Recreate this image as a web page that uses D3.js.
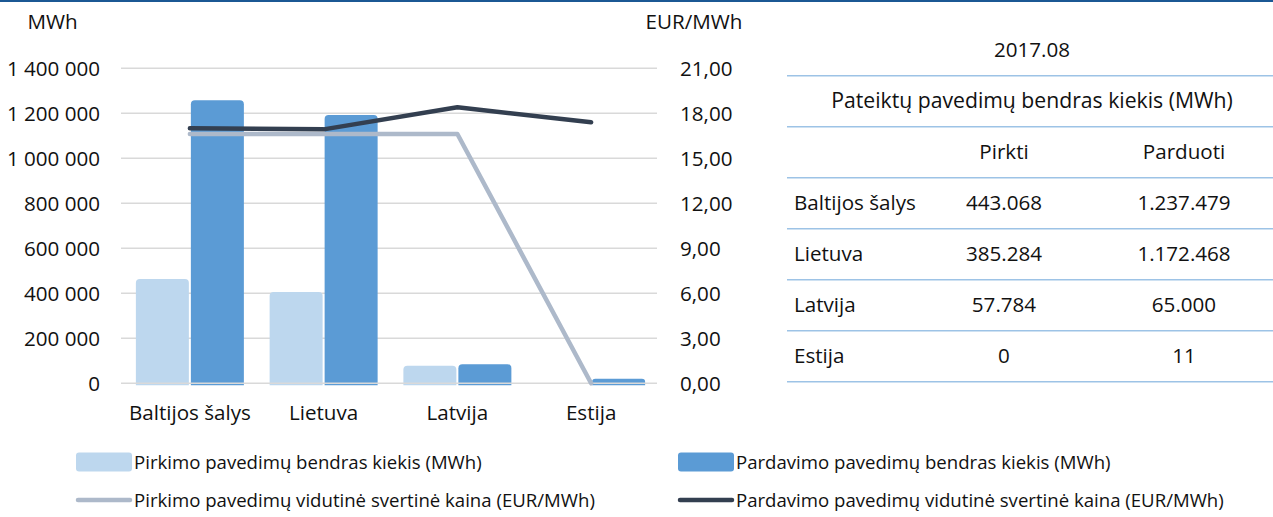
<!DOCTYPE html>
<html>
<head>
<meta charset="utf-8">
<script src="https://cdn.jsdelivr.net/npm/d3@7"></script>
<style>
  body { margin: 0; background: #fff; }
  svg { display: block; font-family: "Open Sans", sans-serif; }
</style>
</head>
<body>
<svg id="chart"></svg>
<script>
const regions = ["Baltijos šalys", "Lietuva", "Latvija", "Estija"];
const buyVolume = [443068, 385284, 57784, 0];
const sellVolume = [1237479, 1172468, 65000, 11];
const buyPrice = [16.62, 16.62, 16.62, 0];
const sellPrice = [17.0, 16.93, 18.4, 17.4];
const volumeTicks = [0, 200000, 400000, 600000, 800000, 1000000, 1200000, 1400000];
const priceTicks = [0, 3, 6, 9, 12, 15, 18, 21];
const period = "2017.08";
const tableTitle = "Pateiktų pavedimų bendras kiekis (MWh)";
const tableColumns = ["Pirkti", "Parduoti"];
const legendLabels = [
  "Pirkimo pavedimų bendras kiekis (MWh)",
  "Pardavimo pavedimų bendras kiekis (MWh)",
  "Pirkimo pavedimų vidutinė svertinė kaina (EUR/MWh)",
  "Pardavimo pavedimų vidutinė svertinė kaina (EUR/MWh)",
];

const width = 1273, height = 517;
const colors = { buyBar: "#bdd7ee", sellBar: "#5b9bd5", buyLine: "#adb9ca", sellLine: "#333f50", grid: "#d9d9d9", text: "#111" };
const fontSize = "20.6px";

const svg = d3.select("#chart").attr("width", width).attr("height", height);

// top border
svg.append("rect").attr("x", 0).attr("y", 0).attr("width", width).attr("height", 2).attr("fill", "#1b5894");

const plot = { left: 121, right: 657, top: 68.3, bottom: 383.3 };

const x = d3.scaleBand().domain(regions).range([plot.left + 2, plot.right + 1]);
const yLeft = d3.scaleLinear().domain([0, 1400000]).range([plot.bottom, plot.top]);
const yRight = d3.scaleLinear().domain([0, 21]).range([plot.bottom, plot.top]);

const numFmt = d3.formatLocale({ decimal: ",", thousands: " ", grouping: [3], currency: ["", ""] });
const tableFmt = d3.formatLocale({ decimal: ",", thousands: ".", grouping: [3], currency: ["", ""] });

// gridlines
svg.append("g")
  .selectAll("line")
  .data(volumeTicks.slice(1))
  .join("line")
  .attr("x1", plot.left).attr("x2", plot.right)
  .attr("y1", (d) => yLeft(d)).attr("y2", (d) => yLeft(d))
  .attr("stroke", colors.grid).attr("stroke-width", 1.5);

// left axis
const leftAxis = svg.append("g")
  .attr("transform", `translate(${plot.left - 13},0)`)
  .call(d3.axisLeft(yLeft).tickValues(volumeTicks).tickSize(0).tickFormat(numFmt.format(",d")));
leftAxis.select(".domain").remove();
leftAxis.selectAll("text").attr("x", -8).attr("dy", "0.34em")
  .style("font-family", "Open Sans").style("font-size", fontSize).attr("fill", colors.text);

// right axis
const rightAxis = svg.append("g")
  .attr("transform", `translate(${plot.right + 23},0)`)
  .call(d3.axisRight(yRight).tickValues(priceTicks).tickSize(0).tickFormat(numFmt.format(".2f")));
rightAxis.select(".domain").remove();
rightAxis.selectAll("text").attr("x", 0).attr("dy", "0.34em")
  .style("font-family", "Open Sans").style("font-size", fontSize).attr("fill", colors.text);

svg.append("text").attr("x", 52.5).attr("y", 29).attr("text-anchor", "middle").text("MWh")
  .style("font-size", fontSize).attr("fill", colors.text);
svg.append("text").attr("x", 694).attr("y", 29).attr("text-anchor", "middle").text("EUR/MWh")
  .style("font-size", fontSize).attr("fill", colors.text);

// bars (zero values are not drawn)
const barW = 53;
function roundTop(bx, by, bw, bh) {
  const r = Math.min(4, bh / 2);
  return `M${bx},${by + bh}V${by + r}Q${bx},${by} ${bx + r},${by}H${bx + bw - r}Q${bx + bw},${by} ${bx + bw},${by + r}V${by + bh}Z`;
}
const barPath = (v, bx) => {
  const top = yLeft(v) - 4.5;
  return roundTop(bx, top, barW, yLeft(0) + 2 - top);
};
const bars = svg.append("g");
bars.selectAll(".buy-bar")
  .data(regions.filter((d, i) => buyVolume[i] > 0))
  .join("path")
  .attr("class", "buy-bar")
  .attr("fill", colors.buyBar)
  .attr("d", (d) => barPath(buyVolume[regions.indexOf(d)], x(d) + x.bandwidth() / 2 - barW - 1));
bars.selectAll(".sell-bar")
  .data(regions.filter((d, i) => sellVolume[i] > 0))
  .join("path")
  .attr("class", "sell-bar")
  .attr("fill", colors.sellBar)
  .attr("d", (d) => barPath(sellVolume[regions.indexOf(d)], x(d) + x.bandwidth() / 2 + 1));

// zero line over bars
svg.append("line")
  .attr("x1", plot.left).attr("x2", plot.right)
  .attr("y1", yLeft(0)).attr("y2", yLeft(0))
  .attr("stroke", colors.grid).attr("stroke-width", 1.5);

// price lines
const line = d3.line().x((d, i) => x(regions[i]) + x.bandwidth() / 2).y((d) => yRight(d));
svg.append("path").datum(buyPrice)
  .attr("fill", "none").attr("stroke", colors.buyLine).attr("stroke-width", 4.5)
  .attr("stroke-linecap", "round").attr("stroke-linejoin", "round").attr("d", line);
svg.append("path").datum(sellPrice)
  .attr("fill", "none").attr("stroke", colors.sellLine).attr("stroke-width", 4.5)
  .attr("stroke-linecap", "round").attr("stroke-linejoin", "round").attr("d", line);

// category axis
const bottomAxis = svg.append("g")
  .attr("transform", `translate(0,${plot.bottom + 17})`)
  .call(d3.axisBottom(x).tickSize(0));
bottomAxis.select(".domain").remove();
bottomAxis.selectAll("text").attr("y", 0).attr("dy", "0.95em")
  .style("font-family", "Open Sans").style("font-size", fontSize).attr("fill", colors.text);

// table
const table = svg.append("g");
const tableLeft = 787, colPirkti = 1004, colParduoti = 1184, titleX = 1032;
const rowLines = [75.7, 126.7, 177.7, 228.7, 279.7, 330.7, 381.7];
table.selectAll("line")
  .data(rowLines)
  .join("line")
  .attr("x1", tableLeft).attr("x2", width)
  .attr("y1", (d) => d).attr("y2", (d) => d)
  .attr("stroke", "#9dc3e6").attr("stroke-width", 1.5);

const cellText = (tx, ty, str, anchor, size) => table.append("text")
  .attr("x", tx).attr("y", ty).attr("dy", "0.35em")
  .attr("text-anchor", anchor).attr("fill", colors.text)
  .style("font-size", size || fontSize).text(str);

cellText(titleX, 50, period, "middle");
cellText(titleX, 101, tableTitle, "middle", "21.2px");
cellText(colPirkti, 152, tableColumns[0], "middle");
cellText(colParduoti, 152, tableColumns[1], "middle");
regions.forEach((r, i) => {
  const ty = 203.2 + i * 51;
  cellText(794, ty, r, "start");
  cellText(colPirkti, ty, tableFmt.format(",d")(buyVolume[i]), "middle");
  cellText(colParduoti, ty, tableFmt.format(",d")(sellVolume[i]), "middle");
});

// legend
const legend = svg.append("g");
const legendItems = [
  { type: "bar", color: colors.buyBar, lx: 76, ly: 462 },
  { type: "bar", color: colors.sellBar, lx: 678, ly: 462 },
  { type: "line", color: colors.buyLine, lx: 76, ly: 500 },
  { type: "line", color: colors.sellLine, lx: 678, ly: 500 },
];
legendItems.forEach((item, i) => {
  if (item.type === "bar") {
    legend.append("rect").attr("x", item.lx).attr("y", item.ly - 9.5)
      .attr("width", 56).attr("height", 19).attr("rx", 3).attr("fill", item.color);
  } else {
    legend.append("line").attr("x1", item.lx + 2).attr("x2", item.lx + 54)
      .attr("y1", item.ly).attr("y2", item.ly)
      .attr("stroke", item.color).attr("stroke-width", 4.5).attr("stroke-linecap", "round");
  }
  legend.append("text").attr("x", item.lx + 58).attr("y", item.ly).attr("dy", "0.35em")
    .attr("fill", colors.text).style("font-size", "18.6px").text(legendLabels[i]);
});
</script>
</body>
</html>
